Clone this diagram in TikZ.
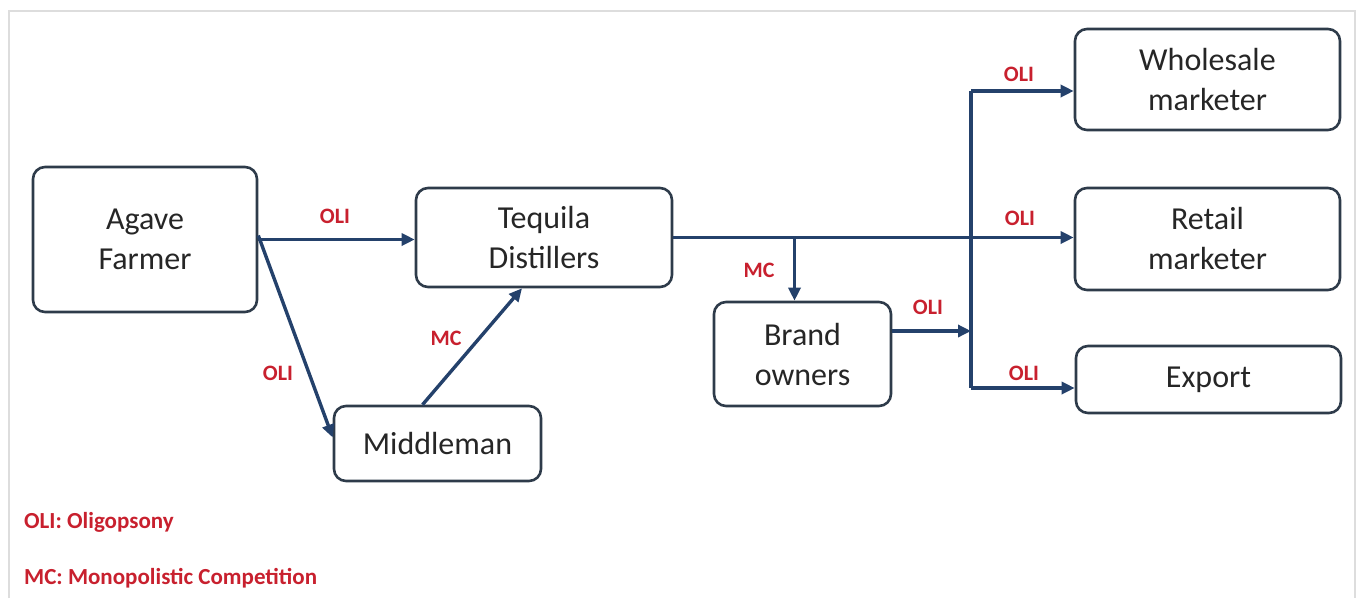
\documentclass[tikz,border=0pt]{standalone}
\usepackage{fontspec}
\setmainfont{Carlito}
\usetikzlibrary{arrows.meta,calc}
\definecolor{boxline}{HTML}{2E3B4A}
\definecolor{arrowc}{HTML}{24416B}
\definecolor{labred}{HTML}{C8202E}
\definecolor{framec}{HTML}{DDDDDD}
\tikzset{
  box/.style={draw=boxline, line width=2.6pt, rounded corners=12pt, align=center,
    font=\fontsize{32}{40}\selectfont, text=black!85, inner sep=0pt},
  flow/.style={draw=arrowc, line width=3.4pt, -{Triangle[length=13pt,width=12pt]}},
  bus/.style={draw=arrowc, line width=3.4pt},
  lab/.style={text=labred, font=\bfseries\fontsize{22}{26}\selectfont, inner sep=0pt},
  legend/.style={text=labred, font=\bfseries\fontsize{23}{28}\selectfont, inner sep=0pt, anchor=west}
}
\begin{document}
\begin{tikzpicture}[x=1pt,y=-1pt]
\useasboundingbox (0,0) rectangle (1358,598);
\draw[framec, line width=2pt] (9,598) -- (9,11) -- (1355,11) -- (1355,598);

\node[box, minimum width=224pt, minimum height=145pt] (farmer) at (145,239.5) {Agave\\Farmer};
\node[box, minimum width=256pt, minimum height=99pt] (tequila) at (544,237.5) {Tequila\\Distillers};
\node[box, minimum width=207pt, minimum height=75pt] (middle) at (437.5,443.5) {Middleman};
\node[box, minimum width=177pt, minimum height=104pt] (brand) at (802.5,354) {Brand\\owners};
\node[box, minimum width=265pt, minimum height=101pt] (whole) at (1207.5,79.5) {Wholesale\\marketer};
\node[box, minimum width=265pt, minimum height=102pt] (retail) at (1207.5,239) {Retail\\marketer};
\node[box, minimum width=265pt, minimum height=67pt] (export) at (1208.5,379.5) {Export};

\coordinate (bustop) at (971,91);
\coordinate (busbot) at (971,388);

\draw[flow] (farmer.east) -- (farmer.east -| tequila.west);
\draw[flow] ([yshift=4pt]farmer.east) -- ([yshift=6pt]middle.west);
\draw[flow] ([xshift=-15pt]middle.north) -- ([xshift=-22pt]tequila.south);
\draw[flow] (tequila.east) -- (tequila.east -| retail.west);
\draw[flow] ([xshift=-8pt]brand.north |- tequila.east) -- ([xshift=-8pt]brand.north);
\draw[flow] ([yshift=23pt]brand.east) -- ([yshift=23pt]brand.east -| bustop);
\draw[bus] (bustop) -- (busbot);
\draw[flow] (bustop) -- (bustop -| whole.west);
\draw[flow] (busbot) -- (busbot -| export.west);

\node[lab] (l1) at (335,216) {OLI};
\node[lab] (l2) at (278,373) {OLI};
\node[lab] (l3) at (446,338) {MC};
\node[lab] (l4) at (759,270) {MC};
\node[lab] (l5) at (928,307) {OLI};
\node[lab] (l6) at (1019,74) {OLI};
\node[lab] (l7) at (1020,218) {OLI};
\node[lab] (l8) at (1024,373) {OLI};

\node[legend] (leg1) at (24,522) {OLI: Oligopsony};
\node[legend] (leg2) at (24,578) {MC: Monopolistic Competition};
\end{tikzpicture}
\end{document}
